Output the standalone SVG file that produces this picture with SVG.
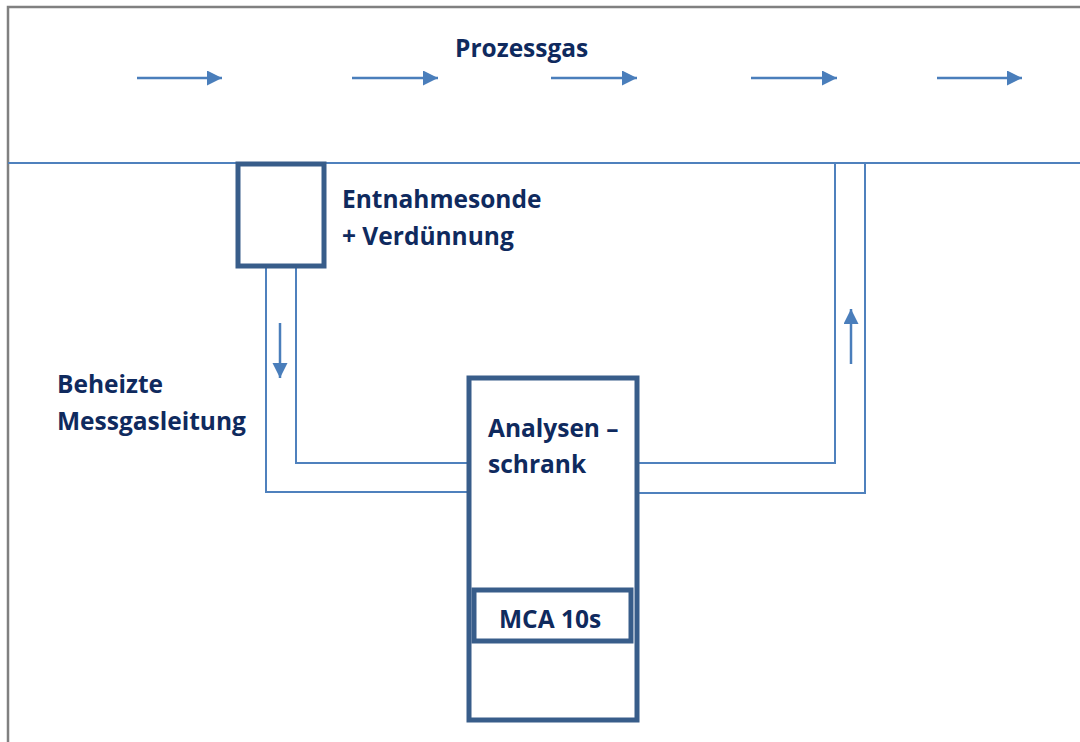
<svg xmlns="http://www.w3.org/2000/svg" width="1080" height="742" viewBox="0 0 1080 742">
<defs>
<style>
.pipe{fill:none;stroke:#4f81bd;stroke-width:2}
.box{fill:#fff;stroke:#385d8a;stroke-width:5}
.lbl{font-family:"Open Sans","Liberation Sans",sans-serif;font-weight:bold;font-size:24.5px;fill:#0f2a5e}
.flow{stroke:#4a7ebb;stroke-width:2.5;fill:none}
</style>
<marker id="ah" markerWidth="8" markerHeight="8" refX="6" refY="3" orient="auto" markerUnits="strokeWidth"><path d="M0,0 L6,3 L0,6 Z" fill="#4a7ebb"/></marker>
</defs>
<rect x="0" y="0" width="1080" height="742" fill="#fff"/>
<path d="M8,742 V7 H1080" fill="none" stroke="#808080" stroke-width="2.5"/>
<g id="process-gas">
<line class="pipe" x1="8" y1="163" x2="1080" y2="163"/>
<text class="lbl" x="455" y="57">Prozessgas</text>
</g>
<g id="connectors">
<line class="flow" x1="137" y1="78" x2="222" y2="78" marker-end="url(#ah)"/>
<line class="flow" x1="352" y1="78" x2="438" y2="78" marker-end="url(#ah)"/>
<line class="flow" x1="551" y1="78" x2="637" y2="78" marker-end="url(#ah)"/>
<line class="flow" x1="751" y1="78" x2="837" y2="78" marker-end="url(#ah)"/>
<line class="flow" x1="937" y1="78" x2="1022" y2="78" marker-end="url(#ah)"/>
<polyline class="pipe" points="266,267 266,492 468,492"/>
<polyline class="pipe" points="296,267 296,463 468,463"/>
<polyline class="pipe" points="638,463 835,463 835,163"/>
<polyline class="pipe" points="638,493 865,493 865,163"/>
<line class="flow" x1="280" y1="323" x2="280" y2="378" marker-end="url(#ah)"/>
<line class="flow" x1="851" y1="364" x2="851" y2="309" marker-end="url(#ah)"/>
</g>
<g id="probe">
<rect class="box" x="238" y="164" width="86" height="102"/>
<text class="lbl" x="342" y="208">Entnahmesonde</text>
<text class="lbl" x="342" y="245">+ Verdünnung</text>
</g>
<g id="heated-line">
<text class="lbl" x="57" y="393">Beheizte</text>
<text class="lbl" x="57" y="430">Messgasleitung</text>
</g>
<g id="cabinet">
<rect class="box" x="469" y="378" width="168" height="342"/>
<text class="lbl" x="488" y="437">Analysen –</text>
<text class="lbl" x="488" y="473">schrank</text>
</g>
<g id="mca">
<rect class="box" x="474" y="590" width="157" height="51"/>
<text class="lbl" x="499" y="628">MCA 10s</text>
</g>
</svg>
